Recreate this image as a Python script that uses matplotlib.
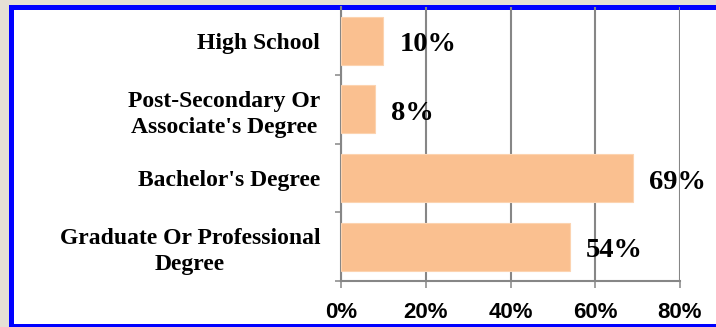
import matplotlib
matplotlib.use("Agg")
import matplotlib.pyplot as plt
from matplotlib.patches import Rectangle
from matplotlib.ticker import FixedLocator, FuncFormatter

## Data
categories = ["High School", "Post-Secondary Or\nAssociate's Degree",
              "Bachelor's Degree", "Graduate Or Professional\nDegree"]
values = [10, 8, 69, 54]
x_ticks = [0, 20, 40, 60, 80]

W, H = 716, 327
fig = plt.figure(figsize=(W / 100, H / 100), dpi=100)
fig.patch.set_facecolor("#e5e0d5")

## white panel with blue frame (pixel coords from top-left)
def px(x, y):
    return x / W, 1 - y / H

x0, y0 = px(10.5, 6.5)
x1, y1 = px(740, 325.5)
frame = Rectangle((x0, y1), x1 - x0, y0 - y1, transform=fig.transFigure,
                  facecolor="white", edgecolor="#0000ff", linewidth=3.6, zorder=-1)
fig.patches.append(frame)

left, top = px(341, 6.5)
right, bottom = px(680, 281)
ax = fig.add_axes([left, bottom, right - left, top - bottom])
ax.set_facecolor("none")

grey = "#868686"
ypos = list(range(len(categories)))
ax.barh(ypos, values, height=0.7, color="#fac090", edgecolor="#fcd3b0",
        linewidth=0.8, zorder=3)
ax.set_xlim(0, 80)
ax.set_ylim(len(categories) - 0.5, -0.5)

ax.xaxis.set_major_locator(FixedLocator(x_ticks))
ax.xaxis.set_major_formatter(FuncFormatter(lambda v, p: f"{v:.0f}%"))
ax.grid(axis="x", color=grey, linewidth=1.5, zorder=1)
ax.set_axisbelow(True)

ax.set_yticks(ypos)
ax.set_yticklabels(categories)
ax.set_yticks([i + 0.5 for i in range(len(categories))], minor=True)
ax.tick_params(axis="y", which="major", length=0, pad=15)
ax.tick_params(axis="y", which="minor", length=4.5, width=1.1, color=grey)
ax.tick_params(axis="x", which="major", length=5, width=1.1, color=grey, pad=10)

for lab in ax.get_yticklabels():
    lab.set_fontfamily("Liberation Serif")
    lab.set_fontweight("bold")
    lab.set_fontsize(17)
    lab.set_multialignment("center")
    lab.set_linespacing(1.3)
for lab in ax.get_xticklabels():
    lab.set_fontfamily("Liberation Sans")
    lab.set_fontweight("bold")
    lab.set_fontsize(16)

for s in ["top", "right"]:
    ax.spines[s].set_visible(False)
for s in ["left", "bottom"]:
    ax.spines[s].set_color(grey)
    ax.spines[s].set_linewidth(1.5)

for y, v in zip(ypos, values):
    ax.annotate(f"{v}%", xy=(v, y), xytext=(11.5, -3), textcoords="offset points",
                ha="left", va="center", fontsize=20.5, fontweight="bold",
                family="Liberation Serif", zorder=4)

fig.savefig("out.png", dpi=100, facecolor=fig.get_facecolor())
